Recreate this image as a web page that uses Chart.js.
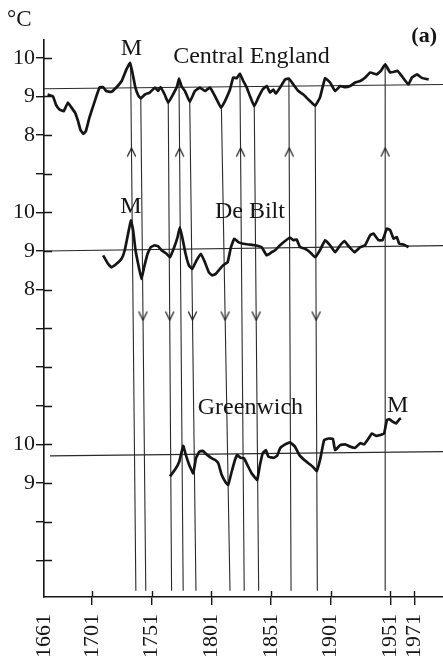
<!DOCTYPE html>
<html><head><meta charset="utf-8">
<script src="https://cdn.jsdelivr.net/npm/chart.js@4.4.1/dist/chart.umd.min.js"></script>
<style>html,body{margin:0;padding:0;background:#fff;}canvas{display:block;}</style>
</head><body>
<canvas id="c" width="443" height="662"></canvas>
<script>
// ---------- DATA ----------
const ceYears = [1664,1668.5,1671,1674,1677.5,1681,1684,1687,1689.5,1691.5,1694,1696,1699,1703.5,1707.5,1710.5,1713,1717.5,1721.5,1726,1730,1733,1735,1737.5,1740,1742,1745.5,1749.5,1754,1756.5,1758.5,1762,1765,1769,1772.5,1774,1776,1779,1783,1787.3,1791.5,1795.7,1799.9,1804.1,1809.3,1812.5,1816.7,1819.4,1822.3,1825,1827.8,1830.7,1833.4,1837,1840.4,1844,1847.4,1850.2,1853,1855,1858.6,1862.8,1866,1869.7,1873.9,1878.1,1882.3,1885,1888,1892,1896.3,1900.5,1904.7,1908.9,1913,1917.3,1921.5,1925.7,1930,1934,1939.6,1943,1946.6,1950.8,1957,1961.4,1966,1969,1973.2,1977.3,1983];
const ceTemps = [9.05,9.0,8.79,8.66,8.62,8.84,8.71,8.58,8.36,8.14,8.03,8.1,8.45,8.88,9.23,9.24,9.14,9.12,9.23,9.40,9.70,9.87,9.62,9.23,9.02,8.95,9.05,9.1,9.23,9.14,9.24,9.05,8.84,9.05,9.27,9.46,9.27,9.14,8.86,9.14,9.23,9.14,9.23,9.01,8.71,8.88,9.18,9.49,9.47,9.59,9.40,9.23,9.01,8.75,8.97,9.18,9.27,9.1,9.18,9.07,9.23,9.44,9.46,9.31,9.14,9.05,8.92,8.84,8.76,8.97,9.47,9.36,9.14,9.27,9.24,9.27,9.36,9.40,9.49,9.62,9.57,9.66,9.83,9.62,9.66,9.49,9.31,9.49,9.57,9.48,9.44];

const dbYears = [1710.5,1714.6,1717.5,1721.7,1725.9,1728.6,1731.4,1733.7,1735.6,1737.6,1740.4,1742.6,1744.8,1747.7,1750.4,1753.8,1756.6,1759.4,1763.6,1766.4,1770,1772.8,1774.7,1776.7,1779.5,1782.3,1785.1,1788.7,1792.3,1795.7,1799,1801.9,1804.7,1808.3,1811,1814.7,1817.5,1820.3,1823.6,1827.8,1832,1837.6,1843.2,1847.4,1851.6,1854.4,1858.6,1862.8,1866.9,1869.7,1872.5,1875.3,1879.5,1883.7,1887.9,1892,1896.3,1900.5,1904.7,1908.9,1912.5,1916.7,1920.9,1925.7,1929.8,1934,1936.8,1941,1944.4,1948,1950.8,1953.6,1956.4,1958.3,1962,1966.2];
const dbTemps = [8.89,8.67,8.58,8.67,8.80,9.02,9.45,9.79,9.54,9.02,8.58,8.28,8.58,8.93,9.10,9.15,9.12,9.02,8.93,8.84,9.10,9.36,9.61,9.36,8.93,8.63,8.54,8.76,8.93,8.71,8.45,8.37,8.41,8.54,8.63,8.71,9.10,9.32,9.23,9.19,9.17,9.15,9.10,8.89,8.97,9.02,9.15,9.26,9.35,9.28,9.30,9.10,9.06,8.97,8.84,9.02,9.28,9.15,8.97,9.15,9.26,9.10,8.97,9.10,9.15,9.41,9.45,9.28,9.28,9.58,9.54,9.32,9.36,9.19,9.17,9.10];

const gwYears = [1766.4,1770.6,1774.2,1777.5,1779.8,1782.5,1785.9,1788.2,1791,1793.8,1797.1,1801.3,1804.1,1806.9,1809.7,1813,1815.2,1818.1,1820.9,1822.8,1825.6,1828.4,1831.2,1834.8,1837.6,1839.5,1841.8,1844.1,1846.8,1848.8,1853,1856.3,1858.6,1862.8,1867,1871.1,1874.8,1878.7,1882.3,1886,1889.3,1892.1,1895.5,1899,1902.8,1904.7,1908.9,1913,1917.3,1921.5,1925.7,1929,1932.6,1935.4,1939,1942.4,1945.7,1948,1950.2,1953.1,1955.8,1958.6,1959.8];
const gwTemps = [9.17,9.34,9.55,9.96,9.72,9.47,9.25,9.64,9.81,9.83,9.74,9.64,9.60,9.51,9.21,9.02,8.95,9.29,9.60,9.72,9.65,9.64,9.47,9.25,9.14,9.08,9.47,9.77,9.85,9.68,9.65,9.71,9.90,10.0,10.05,9.94,9.72,9.60,9.51,9.42,9.31,9.60,10.11,10.15,10.14,9.85,9.98,10.0,9.94,9.91,10.03,10.0,10.15,10.28,10.22,10.24,10.28,10.63,10.65,10.58,10.54,10.65,10.67];

// mean lines (start year, end year, start value, end value as drawn)
const meanYears = [[1661,1995],[1661,1995],[1666,1995]];
const meanTemps = [[9.2,9.31],[9.0,9.14],[9.70,9.81]];

// marked years: top of line on the Central England curve, foot on the year axis
const eventTopYears    = [1733.5,1742,1765,1774,1783,1809.5,1825,1837,1866,1888,1946.6];
const eventBottomYears = [1737.9,1746.2,1767.8,1777.5,1788.2,1816.7,1828.6,1840.7,1867.8,1889.8,1946.6];
const eventTopTemps    = [9.86,8.95,8.84,9.46,8.86,8.71,9.59,8.76,9.45,8.76,9.83];
const eventDirs        = ['up','down','down','up','down','down','up','down','up','down','up'];

const xTickYears = [1661,1701,1751,1801,1851,1901,1951,1971];
const yTickUnits = [1,2,3,4,5,6,7,8,9,10,11,12,13,14];
const yTickLabels = ['','','9','10','','','','8','9','10','','8','9','10'];

// ---------- LAYOUT / STYLE ----------
const OFF = {ce:4, db:0, gw:-6};           // vertical stacking of the three panels (axis units)
const ARROW_UP_U = 11.56, ARROW_DOWN_U = 7.32, FOOT_U = 0.21;
const INK = '#151515';
const SERIF = "'Liberation Serif','DejaVu Serif',serif";

function pts(xs, ys, off){ return xs.map((x,i)=>({x:x, y:ys[i]+off})); }

function chevron(up){
  const c=document.createElement('canvas'); c.width=11; c.height=11;
  const g=c.getContext('2d'); g.strokeStyle='#222'; g.lineWidth=1.3; g.lineCap='round';
  g.beginPath();
  if(up){ g.moveTo(1.5,9.5); g.lineTo(5.5,1.5); g.lineTo(9.5,9.5); }
  else  { g.moveTo(1.5,1.5); g.lineTo(5.5,9.5); g.lineTo(9.5,1.5); }
  g.stroke(); return c;
}
const upImg = chevron(true), downImg = chevron(false);

const evData = [];
eventTopYears.forEach((ty,i)=>{
  const top = eventTopTemps[i] + OFF.ce, bot = FOOT_U, by = eventBottomYears[i];
  const ay = eventDirs[i]==='up' ? ARROW_UP_U : ARROW_DOWN_U;
  const ax = ty + (by-ty)*(top-ay)/(top-bot);
  evData.push({x:ty,y:top},{x:ax,y:ay},{x:by,y:bot},{x:by,y:null});
});

const meanSets = ['ce','db','gw'].map((k,i)=>({
  data: meanYears[i].map((x,j)=>({x:x, y:meanTemps[i][j]+OFF[k]})),
  borderColor:'#2a2a2a', borderWidth:1.1, pointRadius:0, tension:0
}));

const annotations = [
  {text:'M', x:1734.1, y:14.07},
  {text:'Central England', x:1834.7, y:13.86},
  {text:'M', x:1733.7, y:9.99},
  {text:'De Bilt', x:1833.4, y:9.85},
  {text:'Greenwich', x:1833.8, y:4.79},
  {text:'M', x:1957, y:4.84}
];

const inner = {
  id:'inner',
  afterDraw(chart){
    const {ctx, chartArea:a, scales:{x,y}} = chart;
    ctx.save();
    ctx.strokeStyle = INK; ctx.lineWidth = 1.4;
    ctx.beginPath();
    yTickUnits.forEach(u=>{ const py=Math.round(y.getPixelForValue(u))+0.5; ctx.moveTo(a.left,py); ctx.lineTo(a.left+8,py); });
    xTickYears.forEach(v=>{ if(v===1661) return; const px=Math.round(x.getPixelForValue(v))+0.5; ctx.moveTo(px,a.bottom); ctx.lineTo(px,a.bottom-6); });
    ctx.stroke();
    ctx.fillStyle = INK;
    ctx.font = "24px " + SERIF; ctx.textAlign='center'; ctx.textBaseline='alphabetic';
    annotations.forEach(t=> ctx.fillText(t.text, x.getPixelForValue(t.x), y.getPixelForValue(t.y)));
    ctx.textAlign='left';
    ctx.font = "23px " + SERIF;
    ctx.fillText('°C', a.left-37, a.top-14);
    ctx.textAlign='right';
    ctx.font = "bold 22px " + SERIF;
    ctx.fillText('(a)', a.right-6, a.top+2);
    ctx.restore();
  }
};

new Chart(document.getElementById('c'), {
  type:'line',
  data:{ datasets:[
    {data:pts(ceYears,ceTemps,OFF.ce), borderColor:INK, borderWidth:2.7, pointRadius:0, tension:0.1},
    {data:pts(dbYears,dbTemps,OFF.db), borderColor:INK, borderWidth:2.7, pointRadius:0, tension:0.1},
    {data:pts(gwYears,gwTemps,OFF.gw), borderColor:INK, borderWidth:2.7, pointRadius:0, tension:0.1},
    ...meanSets,
    {data:evData, borderColor:'#2a2a2a', borderWidth:1.1, tension:0, spanGaps:false,
     pointRadius: c => c.dataIndex%4===1 ? 5 : 0,
     pointStyle: c => c.dataIndex%4===1 ? (eventDirs[Math.floor(c.dataIndex/4)]==='up'? upImg : downImg) : 'circle',
     pointBorderWidth:0}
  ]},
  options:{
    responsive:false, animation:false, events:[],
    layout:{padding:{top:40,left:0,right:0,bottom:0}},
    plugins:{legend:{display:false}, tooltip:{enabled:false}},
    scales:{
      x:{type:'linear', min:1661, max:1995,
         afterBuildTicks: s => { s.ticks = xTickYears.map(v=>({value:v})); },
         afterFit: s => { s.height = 65; s.paddingLeft = 0; s.paddingRight = 0; },
         border:{display:true, color:INK, width:1.6},
         grid:{drawOnChartArea:false, drawTicks:true, tickLength:8, lineWidth:1.4,
               color: c => (c.tick && c.tick.value===1661) ? 'rgba(0,0,0,0)' : INK},
         ticks:{autoSkip:false, minRotation:90, maxRotation:90, padding:9, color:INK,
                font:{family:SERIF, size:22}, callback: v => String(v)}
      },
      y:{type:'linear', min:0.05, max:14.46,
         afterBuildTicks: s => { s.ticks = yTickUnits.map(v=>({value:v})); },
         afterFit: s => { s.width = 44; s.paddingTop = 0; s.paddingBottom = 0; },
         border:{display:true, color:INK, width:1.6},
         grid:{drawOnChartArea:false, drawTicks:true, tickLength:8, lineWidth:1.4, color:INK},
         ticks:{autoSkip:false, padding:1, color:INK, font:{family:SERIF, size:22},
                callback: v => yTickLabels[yTickUnits.indexOf(v)] || ''}
      }
    }
  },
  plugins:[inner]
});
</script>
</body></html>
